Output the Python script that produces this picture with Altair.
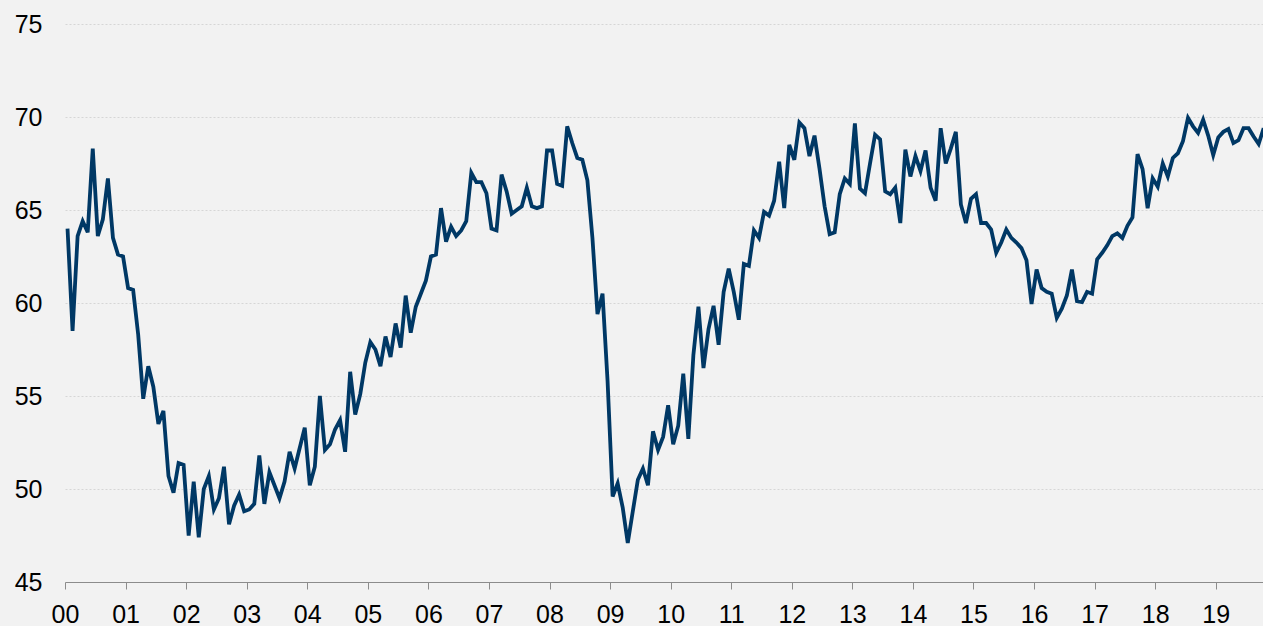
import altair as alt
import pandas as pd

# Monthly values, Jan 2000 - Oct 2019
y2000 = [64.0, 58.5, 63.6, 64.4, 63.8, 68.3, 63.6, 64.5, 66.7, 63.5, 62.6, 62.5]
y2001 = [60.8, 60.7, 58.3, 54.85, 56.6, 55.5, 53.5, 54.2, 50.7, 49.8, 51.4, 51.3]
y2002 = [47.5, 50.4, 47.4, 50.0, 50.7, 48.9, 49.5, 51.2, 48.1, 49.1, 49.7, 48.8]
y2003 = [48.9, 49.2, 51.8, 49.2, 50.9, 50.2, 49.5, 50.4, 52.0, 51.1, 52.2, 53.3]
y2004 = [50.2, 51.2, 55.0, 52.1, 52.4, 53.2, 53.7, 52.0, 56.3, 54.0, 55.1, 56.8]
y2005 = [57.9, 57.5, 56.6, 58.2, 57.1, 58.9, 57.6, 60.4, 58.4, 59.8, 60.5, 61.2]
y2006 = [62.5, 62.6, 65.1, 63.3, 64.1, 63.6, 63.9, 64.4, 67.0, 66.5, 66.5, 65.9]
y2007 = [64.0, 63.9, 66.9, 66.0, 64.8, 65.0, 65.2, 66.2, 65.2, 65.1, 65.2, 68.2]
y2008 = [68.2, 66.4, 66.3, 69.5, 68.6, 67.8, 67.7, 66.6, 63.5, 59.4, 60.5, 55.8]
y2009 = [49.6, 50.3, 49.0, 47.1, 48.8, 50.5, 51.1, 50.2, 53.1, 52.1, 52.8, 54.5]
y2010 = [52.4, 53.4, 56.2, 52.7, 57.2, 59.8, 56.5, 58.6, 59.85, 57.75, 60.6, 61.85]
y2011 = [60.6, 59.1, 62.1, 62.0, 63.9, 63.5, 64.9, 64.7, 65.5, 67.6, 65.1, 68.5]
y2012 = [67.7, 69.7, 69.4, 67.9, 69.0, 67.2, 65.2, 63.7, 63.8, 65.85, 66.7, 66.4]
y2013 = [69.65, 66.15, 65.9, 67.5, 69.05, 68.8, 66.0, 65.85, 66.2, 64.3, 68.25, 66.8]
y2014 = [67.9, 67.1, 68.2, 66.2, 65.5, 69.4, 67.5, 68.3, 69.2, 65.3, 64.3, 65.6]
y2015 = [65.85, 64.3, 64.3, 63.95, 62.7, 63.25, 63.95, 63.5, 63.25, 62.95, 62.3, 59.95]
y2016 = [61.8, 60.8, 60.6, 60.5, 59.2, 59.7, 60.4, 61.8, 60.1, 60.05, 60.6, 60.5]
y2017 = [62.35, 62.7, 63.1, 63.6, 63.75, 63.5, 64.15, 64.6, 68.0, 67.2, 65.1, 66.7]
y2018 = [66.25, 67.5, 66.8, 67.8, 68.05, 68.7, 69.95, 69.5, 69.15, 69.85, 69.0, 67.95]
y2019 = [68.9, 69.2, 69.35, 68.6, 68.75, 69.4, 69.4, 68.95, 68.55, 69.4]

years = [y2000, y2001, y2002, y2003, y2004, y2005, y2006, y2007, y2008, y2009,
         y2010, y2011, y2012, y2013, y2014, y2015, y2016, y2017, y2018, y2019]
x_ticks = list(range(20))
y_ticks = [45, 50, 55, 60, 65, 70, 75]

rows = []
for yi, vals in enumerate(years):
    for mi, v in enumerate(vals):
        rows.append({"t": yi + (mi + 0.5) / 12.0, "v": v})
df = pd.DataFrame(rows)

FONT = "Liberation Sans"

chart = alt.Chart(df).mark_line(color="#003865", strokeWidth=3.8, clip=True).encode(
    x=alt.X("t:Q",
            scale=alt.Scale(domain=[0, 19.78], nice=False, zero=False),
            axis=alt.Axis(values=x_ticks, format="02d", title=None, grid=False,
                          domainColor="#8c8c8c", tickColor="#8c8c8c", tickSize=7,
                          labelFontSize=25, labelColor="#000000", labelPadding=13,
                          labelFont=FONT, labelFlush=False)),
    y=alt.Y("v:Q",
            scale=alt.Scale(domain=[45, 75], nice=False, zero=False),
            axis=alt.Axis(values=y_ticks, title=None, domain=False, ticks=False,
                          gridColor="#d6d6d6", gridDash=[2, 2], gridWidth=1,
                          labelFontSize=25, labelPadding=23, labelFont=FONT,
                          labelColor="#000000")),
).properties(
    width=1198, height=558, background="#f2f2f2",
    padding={"left": 65, "top": 24, "right": 0, "bottom": 44},
    autosize="none",
).configure_view(stroke=None)

chart.save("out.html", embed_options={"renderer": "svg", "actions": False})
